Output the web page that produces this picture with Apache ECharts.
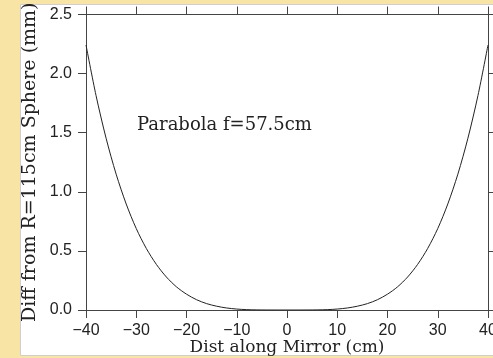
<!DOCTYPE html>
<html><head><meta charset="utf-8">
<script src="https://cdn.jsdelivr.net/npm/echarts@6/dist/echarts.min.js"></script>
<style>html,body{margin:0;padding:0;background:#f8e4a4;}#c{width:493px;height:358px;}</style>
</head><body><div id="c"></div>
<script>
const distCm = [-40,-38,-36,-34,-32,-30,-28,-26,-24,-22,-20,-18,-16,-14,-12,-10,-8,-6,-4,-2,0,2,4,6,8,10,12,14,16,18,20,22,24,26,28,30,32,34,36,38,40];
const diffMm = [2.242,1.814,1.453,1.149,0.897,0.689,0.521,0.386,0.279,0.196,0.134,0.087,0.054,0.032,0.017,0.008,0.003,0.001,0.0002,0,0,0,0.0002,0.001,0.003,0.008,0.017,0.032,0.054,0.087,0.134,0.196,0.279,0.386,0.521,0.689,0.897,1.149,1.453,1.814,2.242];
const xTicks = [-40,-30,-20,-10,0,10,20,30,40];
const yTicks = [0.0,0.5,1.0,1.5,2.0,2.5];
const labelText = 'Parabola f=57.5cm';
const xTitle = 'Dist along Mirror (cm)';
const yTitle = 'Diff from R=115cm Sphere (mm)';

const chart = echarts.init(document.getElementById('c'), null, {renderer:'canvas'});
const axisCol = '#444';
const tickFont = {fontFamily:'Liberation Sans', fontSize:16, color:'#222'};
function xAx(pos, show){
  return {type:'value', position:pos, min:xTicks[0], max:xTicks[xTicks.length-1], interval:10,
    axisLine:{show:true, onZero:false, lineStyle:{color:axisCol,width:1}},
    axisTick:{show:true, inside:false, length:8, lineStyle:{color:axisCol}},
    axisLabel:{show:show, margin:13, ...tickFont, formatter:v=>String(v).replace('-','\u2212'), showMaxLabel:true, showMinLabel:true},
    splitLine:{show:false},
    name: show ? xTitle : '', nameLocation:'middle', nameGap:29, nameMoveOverlap:false,
    nameTextStyle:{fontFamily:'DejaVu Serif', fontSize:17, color:'#222', verticalAlign:'top'}};
}
function yAx(pos, show){
  return {type:'value', position:pos, min:yTicks[0], max:yTicks[yTicks.length-1], interval:0.5,
    axisLine:{show:true, onZero:false, lineStyle:{color:axisCol,width:1}},
    axisTick:{show:true, inside:false, length:8, lineStyle:{color:axisCol}},
    axisLabel:{show:show, margin:14, ...tickFont, formatter:v=>v.toFixed(1)},
    splitLine:{show:false},
    name: show ? yTitle : '', nameLocation:'middle', nameGap:46, nameRotate:90, nameMoveOverlap:false,
    nameTextStyle:{fontFamily:'DejaVu Serif', fontSize:19, color:'#222'}};
}
chart.setOption({
  animation:false,
  backgroundColor:'#f8e4a4',
  graphic:[{type:'rect', z:-10, shape:{x:20.5,y:4.5,width:480,height:351}, style:{fill:'#ffffff', stroke:'#cfcfcf', lineWidth:1}}],
  title:{text:labelText, left:137, top:116, padding:0, textStyle:{fontFamily:'DejaVu Serif', fontSize:18, fontWeight:'normal', color:'#222'}},
  grid:{left:86, right:5, top:14.5, bottom:48, containLabel:false, outerBoundsMode:'none'},
  xAxis:[xAx('bottom',true), xAx('top',false)],
  yAxis:[yAx('left',true), yAx('right',false)],
  series:[{type:'line', xAxisIndex:0, yAxisIndex:0, data:distCm.map((x,i)=>[x,diffMm[i]]),
    showSymbol:false, smooth:0.3, lineStyle:{color:'#222', width:1}}]
});
</script></body></html>
